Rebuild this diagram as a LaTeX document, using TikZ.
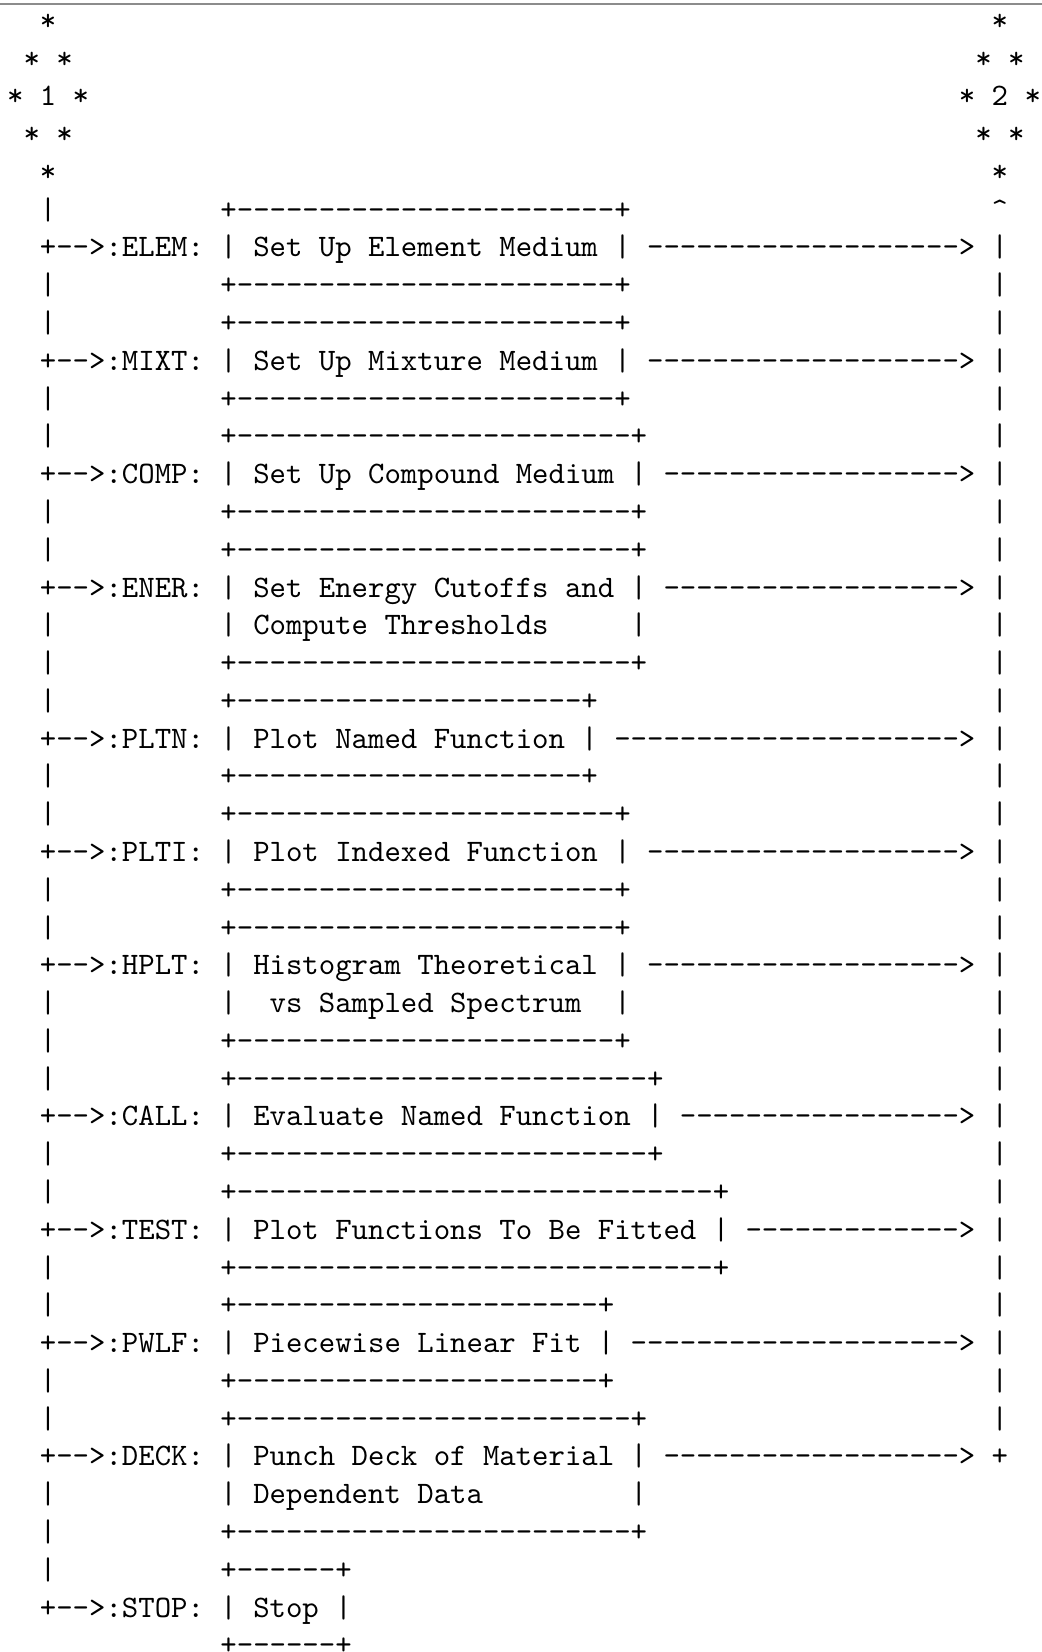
\documentclass[tikz,border=0pt]{standalone}
\usepackage{tikz}

% a run of separate hyphens, so that no dash ligature forms
\ExplSyntaxOn
\cs_new:Npn \dashrun #1 { \prg_replicate:nn {#1} { \mbox{-} } }
\ExplSyntaxOff

\tikzset{
  ch/.style={anchor=base west, inner sep=0pt, outer sep=0pt,
             font=\ttfamily\fontsize{10}{12}\selectfont},
  rule/.style={draw=black!45, line width=0.6pt}
}

% one text cell on the character grid: column, row, text
\newcommand\cell[3]{\node[ch] (r#2c#1) at ({7.1+#1*16.41},{257+(#2-7)*37.78}) {#3};}
% box edge "+---+" at column 13, with #2 dashes
\newcommand\boxedge[2]{\cell{13}{#1}{+\dashrun{#2}+}}
% entry row: label on the trunk, boxed text, arrow to the right trunk
\newcommand\entry[4]{%
  \cell{2}{#1}{+\dashrun{2}>:#2:}%
  \cell{13}{#1}{| #3 |}%
  \cell{#4}{#1}{\dashrun{\numexpr 58-#4\relax}>}}

\begin{document}
\begin{tikzpicture}[x=0.3199pt, y=-0.3199pt]
\useasboundingbox (0,0) rectangle (1042,1652);

% frame rule along the top edge
\coordinate (topL) at (0,4);
\coordinate (topR) at (1042,4);
\draw[rule] (topL) -- (topR);

% connector 1 (left) and connector 2 (right)
\cell{2}{1}{*}   \cell{60}{1}{*}
\cell{1}{2}{* *} \cell{59}{2}{* *}
\cell{0}{3}{* 1 *} \cell{58}{3}{* 2 *}
\cell{1}{4}{* *} \cell{59}{4}{* *}
\cell{2}{5}{*}   \cell{60}{5}{*}

% left trunk
\foreach \r in {6,8,9,11,12,14,15,17,18,19,21,22,24,25,27,28,29,31,32,34,35,37,38,40,41,42}
  {\cell{2}{\r}{|}}

% right trunk
\cell{60}{6}{\textasciicircum}
\foreach \r in {7,...,38} {\cell{60}{\r}{|}}
\cell{60}{39}{+}

% ELEM
\boxedge{6}{23}
\entry{7}{ELEM}{Set Up Element Medium}{39}
\boxedge{8}{23}
% MIXT
\boxedge{9}{23}
\entry{10}{MIXT}{Set Up Mixture Medium}{39}
\boxedge{11}{23}
% COMP
\boxedge{12}{24}
\entry{13}{COMP}{Set Up Compound Medium}{40}
\boxedge{14}{24}
% ENER
\boxedge{15}{24}
\entry{16}{ENER}{Set Energy Cutoffs and}{40}
\cell{13}{17}{|} \cell{15}{17}{Compute Thresholds} \cell{38}{17}{|}
\boxedge{18}{24}
% PLTN
\boxedge{19}{21}
\entry{20}{PLTN}{Plot Named Function}{37}
\boxedge{21}{21}
% PLTI
\boxedge{22}{23}
\entry{23}{PLTI}{Plot Indexed Function}{39}
\boxedge{24}{23}
% HPLT
\boxedge{25}{23}
\entry{26}{HPLT}{Histogram Theoretical}{39}
\cell{13}{27}{|} \cell{16}{27}{vs Sampled Spectrum} \cell{37}{27}{|}
\boxedge{28}{23}
% CALL
\boxedge{29}{25}
\entry{30}{CALL}{Evaluate Named Function}{41}
\boxedge{31}{25}
% TEST
\boxedge{32}{29}
\entry{33}{TEST}{Plot Functions To Be Fitted}{45}
\boxedge{34}{29}
% PWLF
\boxedge{35}{22}
\entry{36}{PWLF}{Piecewise Linear Fit}{38}
\boxedge{37}{22}
% DECK
\boxedge{38}{24}
\entry{39}{DECK}{Punch Deck of Material}{40}
\cell{13}{40}{|} \cell{15}{40}{Dependent Data} \cell{38}{40}{|}
\boxedge{41}{24}
% STOP
\boxedge{42}{6}
\cell{2}{43}{+\dashrun{2}>:STOP:}
\cell{13}{43}{| Stop |}
\boxedge{44}{6}
\end{tikzpicture}
\end{document}
